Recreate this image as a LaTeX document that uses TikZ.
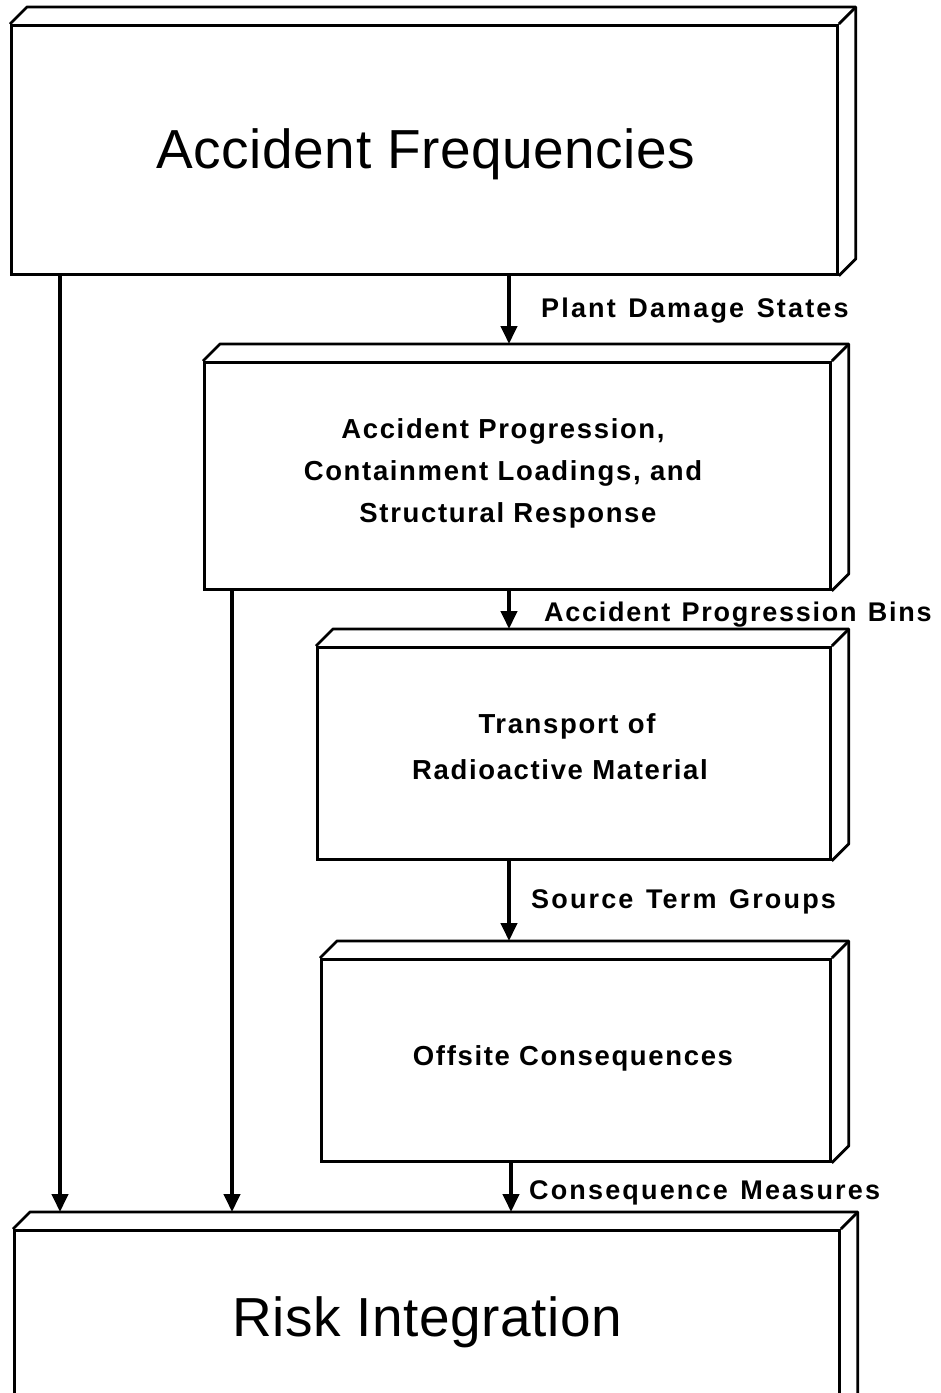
\documentclass[tikz,border=0pt]{standalone}
\usepackage{fontspec}
\setmainfont{Liberation Sans}
\newfontfamily\bigfont[LetterSpace=1]{Liberation Sans}
\newfontfamily\labfont[LetterSpace=6]{Liberation Sans Bold}
\newfontfamily\arrfont[LetterSpace=8,WordSpace=1.3]{Liberation Sans Bold}
\newfontfamily\arrtightfont[LetterSpace=6.5,WordSpace=1.2]{Liberation Sans Bold}
\usetikzlibrary{arrows.meta}
\tikzset{
  x=1pt, y=-1pt,
  front/.style={draw, line width=2.8pt, inner sep=0pt, anchor=north west},
  side/.style={line width=2.8pt, line join=round},
  flow/.style={line width=4.2pt, -{Triangle[width=16pt,length=18pt]}},
  big/.style={font=\bigfont\fontsize{55}{60}\selectfont, anchor=base, inner sep=0pt},
  txt/.style={font=\labfont\fontsize{27.5}{30}\selectfont, anchor=base, inner sep=0pt},
  lab/.style={font=\arrfont\fontsize{27}{30}\selectfont, anchor=base west, inner sep=0pt},
  labtight/.style={font=\arrtightfont\fontsize{27}{30}\selectfont, anchor=base west, inner sep=0pt},
}
\newcommand{\slabfaces}[1]{%
  \draw[side] (#1.north west) -- ++(17pt,17pt) -- ([shift={(17pt,17pt)}]#1.north east)
    -- ([shift={(17pt,17pt)}]#1.south east) -- (#1.south east);
  \draw[side] (#1.north east) -- ++(17pt,17pt);
}
\begin{document}
\begin{tikzpicture}
\useasboundingbox (0,0) rectangle (941,1393);
\clip (0,0) rectangle (941,1393);
% boxes (front faces)
\node[front, minimum width=826pt, minimum height=249pt] (af) at (10,24) {};
\node[front, minimum width=626pt, minimum height=227pt] (ap) at (203,361) {};
\node[front, minimum width=513pt, minimum height=212pt] (tr) at (316,646) {};
\node[front, minimum width=509pt, minimum height=202pt] (oc) at (320,958) {};
\node[front, minimum width=825pt, minimum height=180pt] (ri) at (13,1229) {};
\slabfaces{af}
\slabfaces{ap}
\slabfaces{tr}
\slabfaces{oc}
\slabfaces{ri}
% texts
\node[big] (afT) at (426,168) {Accident Frequencies};
\node[big] (riT) at (427,1336) {Risk Integration};
\node[txt] (ap1) at (503,438) {Accident Progression,};
\node[txt] (ap2) at (503,480) {Containment Loadings, and};
\node[txt] (ap3) at (508,522) {Structural Response};
\node[txt] (tr1) at (567,733) {Transport of};
\node[txt] (tr2) at (560,779) {Radioactive Material};
\node[txt] (oc1) at (573,1065) {Offsite Consequences};
% connector end points
\coordinate (a1s) at (509,273);
\coordinate (a1e) at (509,344);
\coordinate (a2s) at (509,588);
\coordinate (a2e) at (509,629);
\coordinate (a3s) at (509,858);
\coordinate (a3e) at (509,941);
\coordinate (a4s) at (511,1160);
\coordinate (a4e) at (511,1212);
\coordinate (l1s) at (60,273);
\coordinate (l1e) at (60,1212);
\coordinate (l2s) at (232,588);
\coordinate (l2e) at (232,1212);
\draw[flow] (a1s) -- (a1e);
\draw[flow] (a2s) -- (a2e);
\draw[flow] (a3s) -- (a3e);
\draw[flow] (a4s) -- (a4e);
\draw[flow] (l1s) -- (l1e);
\draw[flow] (l2s) -- (l2e);
% labels
\node[lab] (pds) at (541,317) {Plant Damage States};
\node[labtight] (apb) at (544,621) {Accident Progression Bins};
\node[lab] (stg) at (531,908) {Source Term Groups};
\node[lab] (cm) at (529,1199) {Consequence Measures};
\end{tikzpicture}
\end{document}
